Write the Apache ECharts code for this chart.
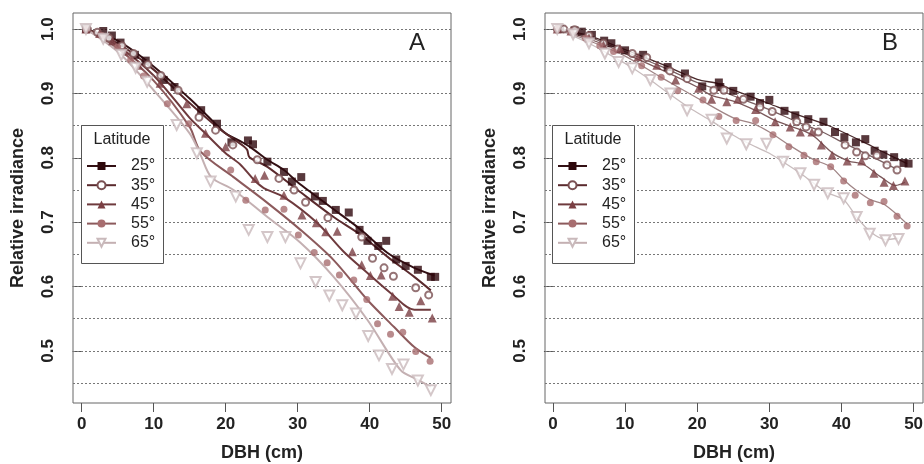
<!DOCTYPE html>
<html><head><meta charset="utf-8">
<script src="https://cdn.jsdelivr.net/npm/echarts@6/dist/echarts.min.js"></script>
<style>html,body{margin:0;padding:0;background:#fff}#c{width:924px;height:464px}</style>
</head><body><div id="c"></div>
<script>
const latitudes = ['25°', '35°', '45°', '55°', '65°'];
const xTicks = [0, 10, 20, 30, 40, 50];
const yTicks = [0.5, 0.6, 0.7, 0.8, 0.9, 1.0];
const gridValues = [0.45, 0.5, 0.55, 0.6, 0.65, 0.7, 0.75, 0.8, 0.85, 0.9, 0.95, 1.0];

// Panel A points
const a25x = [0.6,3.0,4.2,5.4,7.4,8.9,11.4,12.9,16.6,18.8,20.8,23.1,23.8,25.8,28.1,29.2,30.5,32.4,33.5,35.3,37.1,38.6,39.7,41.2,42.3,43.7,45.0,46.7,48.5,49.1];
const a25y = [1.0,0.997,0.99,0.979,0.96,0.951,0.921,0.91,0.874,0.853,0.824,0.827,0.821,0.794,0.778,0.763,0.77,0.74,0.733,0.719,0.715,0.688,0.671,0.663,0.671,0.642,0.632,0.626,0.615,0.615];
const a35x = [0.8,2.2,3.8,5.6,7.2,9.2,11.0,13.4,16.3,18.6,21.0,24.4,27.4,29.5,31.1,34.2,38.9,40.4,42.0,43.3,46.4,48.2];
const a35y = [1.0,0.995,0.986,0.974,0.962,0.945,0.928,0.905,0.863,0.843,0.82,0.797,0.768,0.75,0.731,0.707,0.677,0.644,0.629,0.616,0.598,0.587];
const a45x = [0.6,2.5,4.3,6.0,7.9,10.9,14.6,17.2,20.0,24.1,25.4,28.1,30.6,32.6,33.9,35.5,37.6,38.9,40.1,41.6,43.2,44.1,45.5,47.1,48.7];
const a45y = [1.0,0.993,0.982,0.966,0.944,0.916,0.884,0.838,0.817,0.768,0.773,0.742,0.711,0.699,0.685,0.686,0.654,0.634,0.617,0.618,0.585,0.569,0.56,0.578,0.551];
const a55x = [0.6,2.8,5.0,6.8,8.6,11.9,14.9,17.4,20.7,22.8,25.5,28.1,30.1,32.3,34.1,35.8,37.8,39.6,41.1,42.9,44.6,46.4,48.4];
const a55y = [1.0,0.99,0.972,0.952,0.927,0.884,0.853,0.807,0.781,0.734,0.719,0.72,0.68,0.653,0.637,0.618,0.61,0.58,0.542,0.526,0.529,0.499,0.484];
const a65x = [0.6,3.0,5.5,7.5,9.1,13.2,16.0,17.9,21.4,23.2,25.8,28.3,30.4,32.5,34.4,36.2,38.1,39.8,41.3,43.1,44.7,46.7,48.5];
const a65y = [1.0,0.985,0.96,0.94,0.918,0.851,0.807,0.763,0.74,0.688,0.677,0.677,0.636,0.607,0.586,0.571,0.558,0.523,0.493,0.472,0.479,0.454,0.439];

// Panel A smoothed curves
const a25lx = [0.6,5,10,15,18.3,20,22.5,24,25.8,28.1,30,32,35,38.8,42.5,46.2,49];
const a25ly = [1.0,0.982,0.942,0.892,0.856,0.838,0.823,0.812,0.797,0.781,0.762,0.745,0.72,0.688,0.652,0.629,0.617];
const a35lx = [0.6,5,10,15,18.8,22.5,23.0,23.3,25.8,30,35,38.8,42.5,46.2,48.5];
const a35ly = [1.0,0.978,0.937,0.885,0.848,0.818,0.812,0.801,0.786,0.75,0.708,0.68,0.646,0.615,0.594];
const a45lx = [0.6,5,10,15,17,20,22,24,25.3,28.1,32.7,36.4,39.7,42.9,46.2,48.5];
const a45ly = [1.0,0.974,0.928,0.862,0.84,0.807,0.79,0.765,0.753,0.739,0.699,0.654,0.621,0.59,0.564,0.564];
const a55lx = [0.6,5,10,15,16.5,21.1,25.8,30.4,35,39.7,43.4,46.2,48.5];
const a55ly = [1.0,0.97,0.92,0.848,0.81,0.77,0.73,0.688,0.641,0.579,0.537,0.506,0.489];
const a65lx = [0.6,5,10,15,16.5,18,21.1,25.8,30.4,35,39.7,44.3,46.7,48.5];
const a65ly = [1.0,0.965,0.905,0.838,0.805,0.77,0.75,0.708,0.668,0.615,0.548,0.47,0.455,0.444];

// Panel B points
const b25x = [1.0,3.0,4.0,5.4,7.1,8.1,10.0,12.5,15.9,18.3,20.7,23.0,23.2,25.0,27.4,28.7,30.0,32.1,33.6,35.4,37.5,39.1,40.4,42.0,43.3,44.6,45.8,47.3,48.6,49.3];
const b25y = [1.0,0.998,0.996,0.991,0.982,0.978,0.967,0.96,0.941,0.931,0.911,0.917,0.91,0.904,0.895,0.885,0.89,0.873,0.866,0.86,0.856,0.84,0.832,0.824,0.829,0.811,0.805,0.801,0.792,0.791];
const b35x = [0.6,1.5,3.0,5.0,7.0,9.0,11.0,13.0,16.2,18.6,22.3,23.7,26.4,28.7,30.4,33.8,35.1,36.8,40.5,42.1,43.3,44.9,46.3,47.7];
const b35y = [1.0,1.0,0.999,0.99,0.978,0.969,0.962,0.956,0.935,0.923,0.905,0.905,0.891,0.879,0.872,0.856,0.848,0.84,0.82,0.809,0.803,0.804,0.789,0.781];
const b45x = [0.6,2.5,5.0,7.0,9.3,11.8,14.4,17.0,20.2,22.0,24.1,25.6,28.1,30.8,32.9,34.3,35.9,37.2,38.7,40.8,42.8,44.5,45.9,47.2,48.8];
const b45y = [1.0,0.997,0.986,0.975,0.97,0.957,0.944,0.921,0.908,0.891,0.887,0.891,0.875,0.856,0.848,0.84,0.84,0.82,0.804,0.795,0.795,0.776,0.762,0.757,0.764];
const b55x = [0.6,2.5,4.5,6.5,8.4,12.3,15.0,17.3,20.8,23.0,25.4,28.1,30.5,32.7,34.8,36.5,38.5,40.3,41.9,44.0,45.9,47.7,49.1];
const b55y = [1.0,0.996,0.986,0.974,0.965,0.943,0.925,0.904,0.89,0.864,0.858,0.858,0.836,0.817,0.804,0.794,0.786,0.764,0.742,0.73,0.732,0.709,0.694];
const b65x = [0.6,2.8,5.0,7.2,9.1,11.0,13.5,16.3,18.6,22.0,24.1,26.8,29.6,31.9,34.3,36.2,38.1,40.3,42.1,43.9,46.1,47.9];
const b65y = [1.0,0.992,0.978,0.962,0.949,0.939,0.921,0.9,0.874,0.859,0.83,0.821,0.822,0.794,0.776,0.758,0.745,0.737,0.708,0.682,0.672,0.674];

// Panel B smoothed curves
const b25lx = [0.6,5,10,15,20,23,25,27,30,33.4,38,42.6,45.8,49.1];
const b25ly = [1.0,0.99,0.968,0.946,0.922,0.915,0.905,0.897,0.884,0.869,0.851,0.827,0.809,0.791];
const b35lx = [0.6,5,10,15,20,23,26,30,34,37,40.5,44,47.7];
const b35ly = [1.0,0.988,0.965,0.942,0.917,0.905,0.892,0.875,0.855,0.842,0.822,0.803,0.782];
const b45lx = [0.6,5,10,15,20,22,25,28,31,34,36,38.7,41,43,45.5,47.5,48.8];
const b45ly = [1.0,0.985,0.962,0.937,0.91,0.897,0.888,0.874,0.857,0.845,0.835,0.808,0.795,0.79,0.77,0.757,0.762];
const b55lx = [0.6,5,10,15,20,25,28,30,33,36,38.5,40.3,42,44,46,49.1];
const b55ly = [1.0,0.982,0.958,0.925,0.893,0.862,0.852,0.84,0.818,0.798,0.786,0.766,0.75,0.735,0.727,0.697];
const b65lx = [0.6,5,9,11,13.5,16.3,19,22,25,27,30,32,34.3,36.2,38,40.3,42.1,44,46.1,47.9];
const b65ly = [1.0,0.978,0.953,0.94,0.921,0.898,0.877,0.857,0.835,0.823,0.807,0.793,0.776,0.76,0.746,0.735,0.708,0.685,0.673,0.675];

const pointColors = ['#2e080c', '#7a5052', '#7b3f43', '#a86e70', '#c9b9bb'];
const lineColorsA = ['#331014', '#5a2a2d', '#6e3a3d', '#8c5a5c', '#c4b0b2'];
const lineColorsB = ['#4a2a2c', '#7a6062', '#7c5a5c', '#a08586', '#c8bcbd'];
const symbols = ['rect', 'emptyCircle', 'triangle', 'circle', 'emptyTriangle'];
const symbolRot = [0, 0, 0, 0, 180];
const symbolSizes = [8, 7, 9, 7, 10];

const zip = (xs, ys) => xs.map((x, i) => [x, ys[i]]);
const panels = [
  { pts: [[a25x,a25y],[a35x,a35y],[a45x,a45y],[a55x,a55y],[a65x,a65y]],
    lines: [[a25lx,a25ly],[a35lx,a35ly],[a45lx,a45ly],[a55lx,a55ly],[a65lx,a65ly]], lc: lineColorsA, lw: 2 },
  { pts: [[b25x,b25y],[b35x,b35y],[b45x,b45y],[b55x,b55y],[b65x,b65y]],
    lines: [[b25lx,b25ly],[b35lx,b35ly],[b45lx,b45ly],[b55lx,b55ly],[b65lx,b65ly]], lc: lineColorsB, lw: 1.3 }
];

const FONT = "'Liberation Sans', Arial, sans-serif";
const series = [];
panels.forEach((p, pi) => {
  p.lines.forEach((l, i) => {
    const s = {
      type: 'line', name: latitudes[i], xAxisIndex: pi, yAxisIndex: pi,
      data: zip(l[0], l[1]), smooth: 0.3, showSymbol: false,
      symbol: symbols[i], symbolRotate: symbolRot[i], symbolSize: symbolSizes[i],
      lineStyle: { color: p.lc[i], width: p.lw },
      itemStyle: { color: pointColors[i] },
      silent: true, z: 3
    };
    if (i === 0) {
      s.markLine = {
        silent: true, symbol: ['none', 'none'], label: { show: false },
        lineStyle: { type: [2, 2], color: '#777', width: 1 },
        data: gridValues.map(v => ({ yAxis: v })), z: 1
      };
    }
    series.push(s);
  });
});
panels.forEach((p, pi) => {
  p.pts.forEach((pt, i) => {
    series.push({
      type: 'scatter', name: latitudes[i], xAxisIndex: pi, yAxisIndex: pi,
      data: zip(pt[0], pt[1]), symbol: symbols[i], symbolRotate: symbolRot[i],
      symbolSize: symbolSizes[i], itemStyle: { color: pointColors[i], borderWidth: 1 },
      silent: true, z: 4
    });
  });
});

const gridsPos = [{ left: 73, top: 13, width: 378, height: 390 }, { left: 545, top: 13, width: 378, height: 390 }];
const xMins = [-1.2, -1.1];
const xAxes = gridsPos.map((g, i) => ({
  type: 'value', gridIndex: i, min: xMins[i], max: 51.3,
  name: 'DBH (cm)', nameLocation: 'middle', nameGap: 41,
  nameTextStyle: { fontSize: 18, fontWeight: 'bold', color: '#222', fontFamily: FONT },
  axisLine: { show: false }, splitLine: { show: false },
  axisTick: { show: true, length: 9, customValues: xTicks, lineStyle: { color: '#555' } },
  axisLabel: { customValues: xTicks, fontSize: 17, fontWeight: 'bold', color: '#222', margin: 13, fontFamily: FONT }
}));
const yAxes = gridsPos.map((g, i) => ({
  type: 'value', gridIndex: i, min: 0.419, max: 1.025,
  name: 'Relative irradiance', nameLocation: 'middle', nameGap: 46, nameRotate: 90,
  nameTextStyle: { fontSize: 18, fontWeight: 'bold', color: '#222', fontFamily: FONT },
  axisLine: { show: false }, splitLine: { show: false },
  axisTick: { show: true, length: 9, customValues: yTicks, lineStyle: { color: '#555' } },
  axisLabel: { customValues: yTicks, rotate: 90, fontSize: 17, fontWeight: 'bold', color: '#222', margin: 16,
    fontFamily: FONT, formatter: v => v.toFixed(1) }
}));

const legendBoxes = [{ x: 81, y: 125 }, { x: 552, y: 125 }];
const letters = [{ t: 'A', x: 417, y: 43 }, { t: 'B', x: 890, y: 43 }];
const graphics = [];
legendBoxes.forEach(b => {
  graphics.push({ type: 'rect', z: 3, shape: { x: b.x + 0.5, y: b.y + 0.5, width: 82, height: 138 },
    style: { fill: '#fff', stroke: '#555', lineWidth: 1 } });
  graphics.push({ type: 'text', z: 5, x: b.x + 41, y: b.y + 15,
    style: { text: 'Latitude', fontSize: 16, fill: '#222', align: 'center', verticalAlign: 'middle', fontFamily: FONT } });
});
letters.forEach(l => graphics.push({ type: 'text', z: 5, x: l.x, y: l.y,
  style: { text: l.t, fontSize: 24, fill: '#222', align: 'center', verticalAlign: 'middle', fontFamily: FONT } }));

const legends = legendBoxes.map(b => ({
  orient: 'vertical', left: b.x + 5, top: 158, itemWidth: 29, itemHeight: 10, itemGap: 3.2,
  padding: 0, selectedMode: false, z: 6, data: latitudes,
  textStyle: { fontSize: 16, color: '#222', padding: [0, 0, 0, 10], fontFamily: FONT }
}));

const chart = echarts.init(document.getElementById('c'), null, { renderer: 'canvas' });
chart.setOption({
  animation: false,
  backgroundColor: '#fff',
  grid: gridsPos.map(g => Object.assign({ show: true, borderColor: '#666', borderWidth: 1,
    containLabel: false, outerBoundsMode: 'none' }, g)),
  xAxis: xAxes, yAxis: yAxes, legend: legends, graphic: graphics, series: series
});
</script></body></html>
